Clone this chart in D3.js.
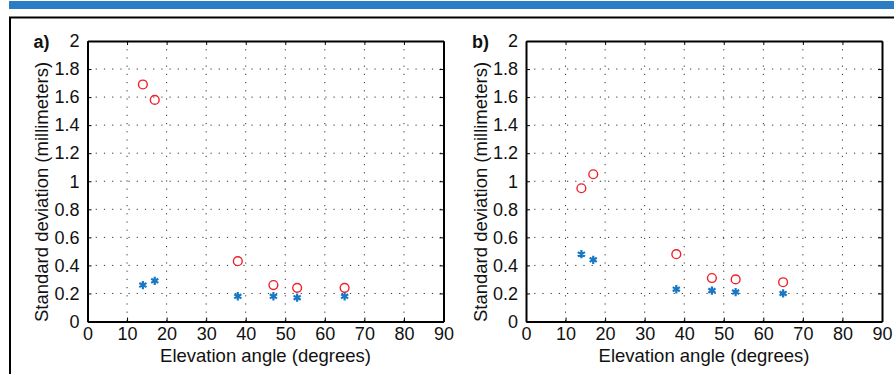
<!DOCTYPE html>
<html>
<head>
<meta charset="utf-8">
<script src="https://cdn.jsdelivr.net/npm/d3@7"></script>
<style>
  body { margin: 0; background: #fff; }
  svg { display: block; font-family: "Liberation Sans", Arial, sans-serif; }
</style>
</head>
<body>
<svg id="chart" width="894" height="374"></svg>
<script>
// elevation angles of the stations (shared by both panels)
const angles = [14, 17, 38, 47, 53, 65];

// panel a)
const aCircles = [1.69, 1.58, 0.43, 0.26, 0.24, 0.24];
const aStars   = [0.26, 0.29, 0.18, 0.18, 0.17, 0.18];

// panel b)
const bCircles = [0.95, 1.05, 0.48, 0.31, 0.30, 0.28];
const bStars   = [0.48, 0.44, 0.23, 0.22, 0.21, 0.20];

const xTicks = [0, 10, 20, 30, 40, 50, 60, 70, 80, 90];
const yTicks = [0, 0.2, 0.4, 0.6, 0.8, 1, 1.2, 1.4, 1.6, 1.8, 2];

const svg = d3.select('#chart');

// page decoration: blue band and frame
svg.append('rect')
  .attr('x', 9).attr('y', 1).attr('width', 885).attr('height', 8)
  .attr('fill', '#2a7dc4');
svg.append('path')
  .attr('d', 'M10,374 V17.5 H894')
  .attr('fill', 'none')
  .attr('stroke', '#000')
  .attr('stroke-width', 2);

const plotTop = 41, plotBottom = 321.5;

function panel(left, right, tag, circles, stars) {
  const x = d3.scaleLinear().domain([0, 90]).range([left, right]);
  const y = d3.scaleLinear().domain([0, 2]).range([plotBottom, plotTop]);
  const g = svg.append('g');

  // dotted grid
  g.append('g').selectAll('line').data(xTicks.slice(1, -1)).join('line')
    .attr('x1', d => x(d)).attr('x2', d => x(d))
    .attr('y1', plotTop).attr('y2', plotBottom)
    .attr('stroke', '#333').attr('stroke-width', 1)
    .attr('stroke-dasharray', '1.2,7');
  g.append('g').selectAll('line').data(yTicks.slice(1, -1)).join('line')
    .attr('x1', left).attr('x2', right)
    .attr('y1', d => y(d)).attr('y2', d => y(d))
    .attr('stroke', '#333').attr('stroke-width', 1)
    .attr('stroke-dasharray', '1.2,7');

  const fmt = d => String(+d.toFixed(1));

  const xb = g.append('g').attr('transform', `translate(0,${plotBottom})`)
    .call(d3.axisBottom(x).tickValues(xTicks).tickFormat(fmt)
      .tickSizeInner(-4).tickSizeOuter(0).tickPadding(6));
  const xt = g.append('g').attr('transform', `translate(0,${plotTop})`)
    .call(d3.axisTop(x).tickValues(xTicks).tickFormat('')
      .tickSizeInner(-4).tickSizeOuter(0));
  const yl = g.append('g').attr('transform', `translate(${left},0)`)
    .call(d3.axisLeft(y).tickValues(yTicks).tickFormat(fmt)
      .tickSizeInner(-4).tickSizeOuter(0).tickPadding(8));
  const yr = g.append('g').attr('transform', `translate(${right},0)`)
    .call(d3.axisRight(y).tickValues(yTicks).tickFormat('')
      .tickSizeInner(-4).tickSizeOuter(0));

  [xb, xt, yl, yr].forEach(a => {
    a.select('.domain').attr('stroke', '#000').attr('stroke-width', 2);
    a.selectAll('.tick line').attr('stroke', '#000').attr('stroke-width', 1);
    a.selectAll('text')
      .attr('font-family', '"Liberation Sans", Arial, sans-serif')
      .attr('font-size', 18).attr('fill', '#111');
  });

  // axis titles
  g.append('text')
    .attr('x', (left + right) / 2).attr('y', 362)
    .attr('text-anchor', 'middle').attr('font-size', 18.5).attr('fill', '#111')
    .text('Elevation angle (degrees)');
  g.append('text')
    .attr('transform', `translate(${left - 39.5},${192}) rotate(-90)`)
    .attr('text-anchor', 'middle').attr('font-size', 18.5).attr('fill', '#111')
    .text('Standard deviation (millimeters)');
  g.append('text')
    .attr('x', left - 54).attr('y', 48)
    .attr('font-size', 18).attr('font-weight', 'bold').attr('fill', '#111')
    .text(tag);

  // markers
  const starData = angles.map((a, i) => ({ a, v: stars[i] }));
  const circData = angles.map((a, i) => ({ a, v: circles[i] }));
  const star = d3.symbol().type(d3.symbolAsterisk).size(48);
  g.append('g').selectAll('path').data(starData).join('path')
    .attr('transform', d => `translate(${x(d.a)},${y(d.v)})`)
    .attr('d', star)
    .attr('fill', 'none').attr('stroke', '#1878c6').attr('stroke-width', 2.2);
  g.append('g').selectAll('circle').data(circData).join('circle')
    .attr('cx', d => x(d.a)).attr('cy', d => y(d.v)).attr('r', 4.4)
    .attr('fill', 'none').attr('stroke', '#f0202a').attr('stroke-width', 1.4);
}

panel(87.5, 443.5, 'a)', aCircles, aStars);
panel(526, 882, 'b)', bCircles, bStars);
</script>
</body>
</html>
